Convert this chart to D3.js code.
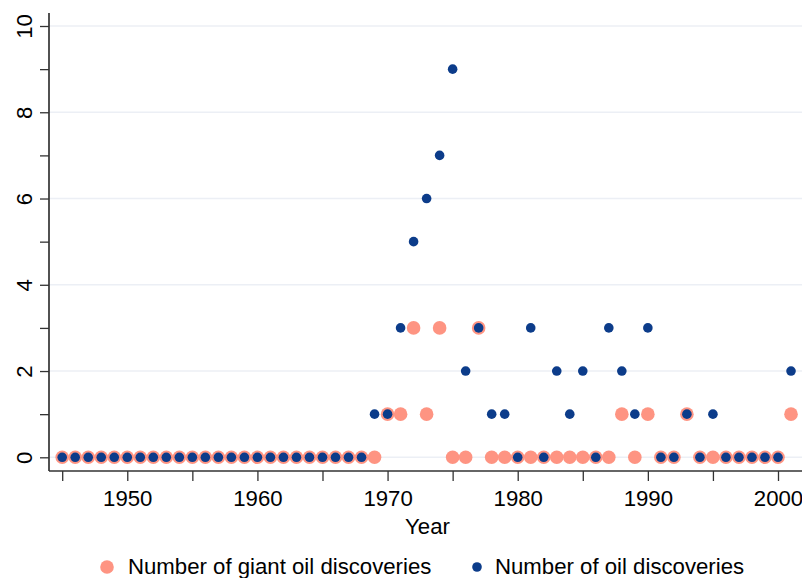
<!DOCTYPE html>
<html>
<head>
<meta charset="utf-8">
<script src="https://cdn.jsdelivr.net/npm/d3@7"></script>
<style>
  html, body { margin: 0; padding: 0; background: #fff; }
  svg { display: block; font-family: "Liberation Sans", Arial, sans-serif; }
</style>
</head>
<body>
<svg id="chart" width="802" height="578"></svg>
<script>
// Oil discoveries per year, 1945–2001
const years = d3.range(1945, 2002);
const giantDiscoveries = [
  0,0,0,0,0,0,0,0,0,0,   // 1945–1954
  0,0,0,0,0,0,0,0,0,0,   // 1955–1964
  0,0,0,0,0,1,1,3,1,3,   // 1965–1974
  0,0,3,0,0,0,0,0,0,0,   // 1975–1984
  0,0,0,1,0,1,0,0,1,0,   // 1985–1994
  0,0,0,0,0,0,1          // 1995–2001
];
const allDiscoveries = [
  0,0,0,0,0,0,0,0,0,0,   // 1945–1954
  0,0,0,0,0,0,0,0,0,0,   // 1955–1964
  0,0,0,0,1,1,3,5,6,7,   // 1965–1974
  9,2,3,1,1,0,3,0,2,1,   // 1975–1984
  2,0,3,2,1,3,0,0,1,0,   // 1985–1994
  1,0,0,0,0,0,2          // 1995–2001
];
const xTickValues = d3.range(1945, 2001, 5);
const xTickLabels = [1950, 1960, 1970, 1980, 1990, 2000];
const yTickValues = d3.range(0, 11, 1);
const yTickLabels = [0, 2, 4, 6, 8, 10];
const seriesNames = ["Number of giant oil discoveries", "Number of oil discoveries"];

const pink = "#fe9482";
const navy = "#0c3c8a";
const fontSize = 22.2;

const svg = d3.select("#chart");
const plotLeft = 49, plotRight = 802, plotTop = 13, plotBottom = 471;

const x = d3.scaleLinear().domain([1945, 2000]).range([62.2, 778]);
const y = d3.scaleLinear().domain([0, 10]).range([457.3, 26]);

// gridlines at labelled y values
svg.append("g")
  .selectAll("line")
  .data(yTickLabels)
  .join("line")
  .attr("x1", plotLeft).attr("x2", plotRight)
  .attr("y1", d => y(d)).attr("y2", d => y(d))
  .attr("stroke", "#eceff5").attr("stroke-width", 1.5);

// markers: giant discoveries underneath, all discoveries on top
svg.append("g")
  .selectAll("circle")
  .data(years.map((yr, i) => ({ yr, v: giantDiscoveries[i] })))
  .join("circle")
  .attr("cx", d => x(d.yr)).attr("cy", d => y(d.v))
  .attr("r", 6.8).attr("fill", pink);

svg.append("g")
  .selectAll("circle")
  .data(years.map((yr, i) => ({ yr, v: allDiscoveries[i] })))
  .join("circle")
  .attr("cx", d => x(d.yr)).attr("cy", d => y(d.v))
  .attr("r", 4.8).attr("fill", navy);

// y axis
const yAxis = d3.axisLeft(y)
  .tickValues(yTickValues)
  .tickSize(9)
  .tickFormat(d => yTickLabels.includes(d) ? d : "");
const gy = svg.append("g").attr("transform", `translate(${plotLeft},0)`).call(yAxis);
gy.select(".domain").remove();
gy.selectAll(".tick line").attr("stroke", "#333").attr("stroke-width", 1.3);
gy.selectAll(".tick text")
  .attr("font-size", fontSize)
  .attr("fill", "#000")
  .attr("text-anchor", "middle")
  .attr("x", null).attr("dy", null)
  .attr("transform", "translate(-25,0) rotate(-90)")
  .attr("dominant-baseline", "central");
svg.append("line")
  .attr("x1", plotLeft).attr("x2", plotLeft).attr("y1", plotTop).attr("y2", plotBottom)
  .attr("stroke", "#333").attr("stroke-width", 1.7);

// x axis
const xAxis = d3.axisBottom(x)
  .tickValues(xTickValues)
  .tickSize(10)
  .tickFormat(d => xTickLabels.includes(d) ? d : "");
const gx = svg.append("g").attr("transform", `translate(0,${plotBottom})`).call(xAxis);
gx.select(".domain").remove();
gx.selectAll(".tick line").attr("stroke", "#333").attr("stroke-width", 1.3);
gx.selectAll(".tick text")
  .attr("font-size", fontSize).attr("fill", "#000")
  .attr("dy", null).attr("y", 35);
svg.append("line")
  .attr("x1", plotLeft).attr("x2", plotRight).attr("y1", plotBottom).attr("y2", plotBottom)
  .attr("stroke", "#333").attr("stroke-width", 1.7);

svg.append("text")
  .attr("x", (plotLeft + plotRight) / 2 + 2).attr("y", 534)
  .attr("text-anchor", "middle").attr("font-size", fontSize)
  .text("Year");

// legend
const legend = svg.append("g");
legend.append("circle").attr("cx", 107).attr("cy", 567).attr("r", 6.8).attr("fill", pink);
legend.append("text").attr("x", 128).attr("y", 574).attr("font-size", fontSize).text(seriesNames[0]);
legend.append("circle").attr("cx", 477).attr("cy", 567).attr("r", 4.8).attr("fill", navy);
legend.append("text").attr("x", 495).attr("y", 574).attr("font-size", fontSize).text(seriesNames[1]);
</script>
</body>
</html>
